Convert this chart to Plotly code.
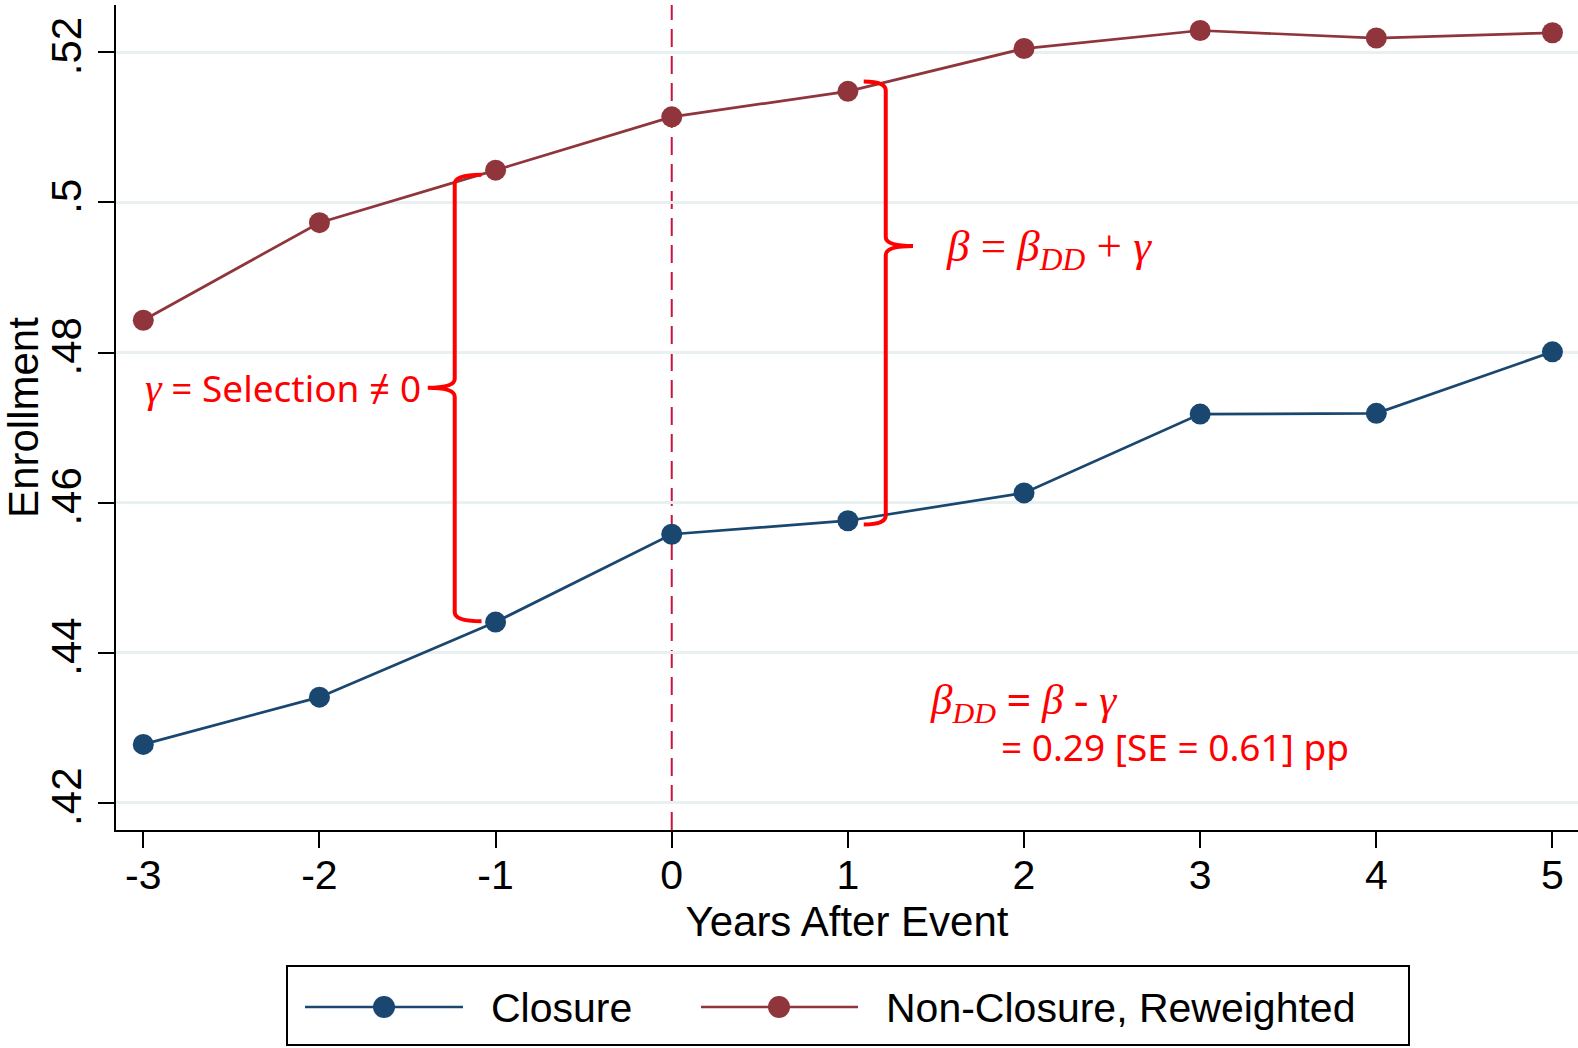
import plotly.graph_objects as go

# ---------------- data ----------------
years = [-3, -2, -1, 0, 1, 2, 3, 4, 5]
closure = [0.4278, 0.4341, 0.4441, 0.4558, 0.4576, 0.4613, 0.4718, 0.4719, 0.4801]
non_closure = [0.4843, 0.4973, 0.5043, 0.5114, 0.5148, 0.5205, 0.5229, 0.5219, 0.5226]
y_ticks = [0.42, 0.44, 0.46, 0.48, 0.50, 0.52]
y_tick_labels = [".42", ".44", ".46", ".48", ".5", ".52"]
series_names = ["Closure", "Non-Closure, Reweighted"]

NAVY = "#1A476F"
MAROON = "#90353B"
RED = "#FF0000"
GRID = "#E8F0F2"

W, H = 1578, 1048
ML, MR, MT, MB = 116, 0, 5, 218
PW, PH = W - ML - MR, H - MT - MB


def px_x(p):
    return (p - ML) / PW


def px_y(p):
    return (H - MB - p) / PH


fig = go.Figure()
fig.add_trace(go.Scatter(x=years, y=closure, mode="lines+markers", name=series_names[0],
                         line=dict(color=NAVY, width=2.7),
                         marker=dict(color=NAVY, size=21), showlegend=False))
fig.add_trace(go.Scatter(x=years, y=non_closure, mode="lines+markers", name=series_names[1],
                         line=dict(color=MAROON, width=2.7),
                         marker=dict(color=MAROON, size=21), showlegend=False))

shapes = []
# vertical dashed line at event
shapes.append(dict(type="line", xref="x", yref="paper", x0=0, x1=0, y0=0, y1=1,
                   line=dict(color="#C8143E", width=2, dash="18px,9px"), layer="below"))


def bracket(xb, xh, xn, yt, yb, ym, rx, ry):
    return (f"M {xh},{yt} Q {xb},{yt} {xb},{yt - ry} "
            f"L {xb},{ym + ry} Q {xb},{ym} {xn},{ym} "
            f"Q {xb},{ym} {xb},{ym - ry} "
            f"L {xb},{yb + ry} Q {xb},{yb} {xh},{yb}")


# left bracket (selection)
shapes.append(dict(type="path", xref="x", yref="y",
                   path=bracket(-1.232, -1.08, -1.385, 0.5037, 0.4442, 0.4753, 0.05, 0.0012),
                   line=dict(color=RED, width=4)))
# right bracket (beta)
shapes.append(dict(type="path", xref="x", yref="y",
                   path=bracket(1.215, 1.09, 1.37, 0.5161, 0.4571, 0.4942, 0.05, 0.0012),
                   line=dict(color=RED, width=4)))

# manual legend
shapes.append(dict(type="rect", xref="paper", yref="paper",
                   x0=px_x(287), x1=px_x(1409), y0=px_y(1045), y1=px_y(966),
                   line=dict(color="black", width=2), fillcolor="white"))
leg_y = px_y(1007)
for (lx0, lx1, mx), col in [((305, 463, 384), NAVY), ((701, 858, 779), MAROON)]:
    shapes.append(dict(type="line", xref="paper", yref="paper",
                       x0=px_x(lx0), x1=px_x(lx1), y0=leg_y, y1=leg_y,
                       line=dict(color=col, width=2.7)))
    shapes.append(dict(type="circle", xref="paper", yref="paper",
                       xsizemode="pixel", ysizemode="pixel",
                       xanchor=px_x(mx), yanchor=leg_y,
                       x0=-11, x1=11, y0=-11, y1=11,
                       fillcolor=col, line=dict(color=col, width=0)))

annotations = []
for tx, name in [(489, series_names[0]), (884, series_names[1])]:
    annotations.append(dict(xref="paper", yref="paper", x=px_x(tx), y=px_y(1008),
                            xanchor="left", yanchor="middle", showarrow=False,
                            text=name, font=dict(family="Liberation Sans", size=41, color="black")))

SERIF = "Liberation Serif"
SANS = "Noto Sans"
annotations.append(dict(xref="x", yref="y", x=-1.41, y=0.4753, xanchor="right", yanchor="middle",
                        showarrow=False,
                        text=f"<span style='font-family:{SERIF};font-size:42px'><i>γ</i></span> = Selection ≠ 0",
                        font=dict(family=SANS, size=37, color=RED)))
annotations.append(dict(xref="x", yref="y", x=1.546, y=0.4938, xanchor="left", yanchor="middle",
                        showarrow=False,
                        text="<i>β</i> = <i>β</i><sub><i>DD</i></sub> + <i>γ</i>",
                        font=dict(family=SERIF, size=45, color=RED)))
annotations.append(dict(xref="x", yref="y", x=1.455, y=0.4333, xanchor="left", yanchor="middle",
                        showarrow=False,
                        text="<i>β</i><sub><i>DD</i></sub> <b>=</b> <i>β</i> - <i>γ</i>",
                        font=dict(family=SERIF, size=43, color=RED)))
annotations.append(dict(xref="x", yref="y", x=1.86, y=0.4275, xanchor="left", yanchor="middle",
                        showarrow=False,
                        text="= 0.29 [SE = 0.61] pp",
                        font=dict(family=SANS, size=37, color=RED)))

fig.update_layout(
    width=W, height=H, autosize=False,
    margin=dict(l=ML, r=MR, t=MT, b=MB, pad=0),
    plot_bgcolor="white", paper_bgcolor="white",
    font=dict(family="Liberation Sans", size=41, color="black"),
    shapes=shapes, annotations=annotations,
    showlegend=False,
)
fig.update_xaxes(range=[-3.155, 5.145], tickmode="array", tickvals=years,
                 ticktext=[str(v) for v in years],
                 showgrid=False, zeroline=False, showline=True, linecolor="black", linewidth=2,
                 ticks="outside", ticklen=16, tickwidth=2, tickcolor="black",
                 tickfont=dict(size=41), ticklabelstandoff=-8,
                 title=dict(text="Years After Event", font=dict(size=42), standoff=2))
fig.update_yaxes(range=[0.4164, 0.5263], tickmode="array", tickvals=y_ticks, ticktext=y_tick_labels,
                 tickangle=-90, showgrid=True, gridcolor=GRID, gridwidth=2.5,
                 zeroline=False, showline=True, linecolor="black", linewidth=2,
                 ticks="outside", ticklen=16, tickwidth=2, tickcolor="black",
                 tickfont=dict(size=42),
                 title=dict(text="Enrollment", font=dict(size=42), standoff=2))

fig.write_html("out.html")
